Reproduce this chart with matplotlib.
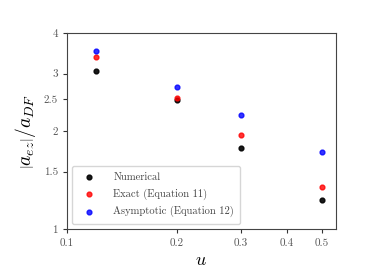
import matplotlib
matplotlib.use('Agg')
import matplotlib.pyplot as plt
from matplotlib.ticker import FixedLocator, FixedFormatter, NullLocator

plt.rcParams['font.family'] = 'serif'
plt.rcParams['font.serif'] = ['cmr10']
plt.rcParams['mathtext.fontset'] = 'cm'
plt.rcParams['axes.unicode_minus'] = False

# data
u = [0.12, 0.2, 0.3, 0.5]
numerical = [3.06, 2.49, 1.78, 1.23]
exact = [3.37, 2.52, 1.95, 1.35]
asymptotic = [3.53, 2.74, 2.24, 1.73]

xticks = [0.1, 0.2, 0.3, 0.4, 0.5]
xticklabels = ['0.1', '0.2', '0.3', '0.4', '0.5']
yticks = [1, 1.5, 2, 2.5, 3, 4]
yticklabels = ['1', '1.5', '2', '2.5', '3', '4']

fig = plt.figure(figsize=(3.74, 2.8), dpi=100)
ax = fig.add_axes([0.179, 0.182, 0.719, 0.7])

ax.scatter(u, numerical, s=12, color='black', alpha=0.9, label='Numerical')
ax.scatter(u, exact, s=12, color='red', alpha=0.8, label='Exact (Equation 11)')
ax.scatter(u, asymptotic, s=12, color='blue', alpha=0.8, label='Asymptotic (Equation 12)')

ax.set_xscale('log')
ax.set_yscale('log')
ax.set_xlim(0.1, 0.545)
ax.set_ylim(1, 4)

ax.xaxis.set_major_locator(FixedLocator(xticks))
ax.xaxis.set_major_formatter(FixedFormatter(xticklabels))
ax.xaxis.set_minor_locator(NullLocator())
ax.yaxis.set_major_locator(FixedLocator(yticks))
ax.yaxis.set_major_formatter(FixedFormatter(yticklabels))
ax.yaxis.set_minor_locator(NullLocator())
ax.tick_params(labelsize=8, length=3, colors='#333333', labelcolor='#555555')
for sp in ax.spines.values():
    sp.set_color('#444444')

ax.set_xlabel(r'$u$', fontsize=13)
ax.set_ylabel(r'$\left|a_{ez}\right|/a_{DF}$', fontsize=14)

leg = ax.legend(loc='lower left', fontsize=7.6, frameon=True, handletextpad=1.3,
                borderpad=0.6, labelspacing=0.6)
for t in leg.get_texts():
    t.set_color('#444444')

fig.savefig('out.png', dpi=100)
